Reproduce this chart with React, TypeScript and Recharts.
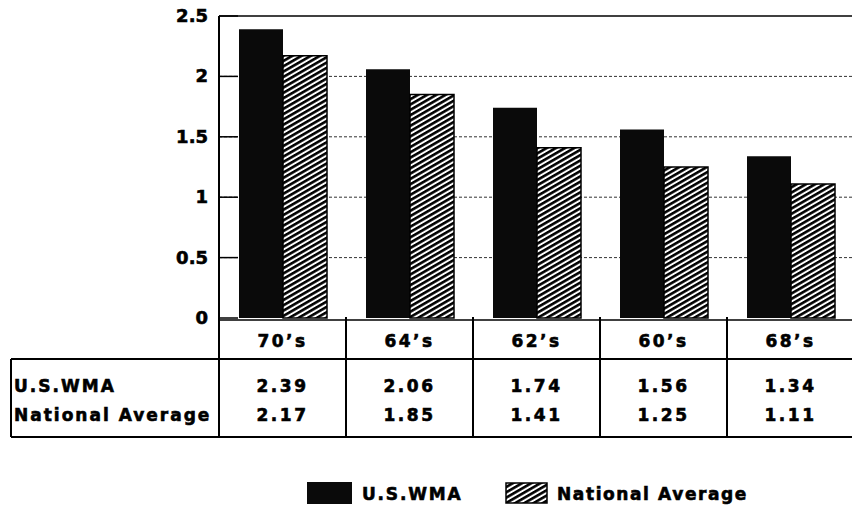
import React from "react";
import { BarChart, Bar, XAxis, YAxis, CartesianGrid, ReferenceLine, Legend } from "recharts";

const categories = ["70’s", "64’s", "62’s", "60’s", "68’s"];
const wmaValues = [2.39, 2.06, 1.74, 1.56, 1.34];
const natValues = [2.17, 1.85, 1.41, 1.25, 1.11];
const yTicks = [0, 0.5, 1, 1.5, 2, 2.5];
const gridValues = [0.5, 1, 1.5, 2];
const seriesNames = ["U.S.WMA", "National Average"];

const data = categories.map((c, i) => ({ cat: c, wma: wmaValues[i], nat: natValues[i] }));

const CHART_W = 860;
const CHART_H = 509;
const MARGIN = { top: 16, right: 6, left: 0, bottom: 0 };
const Y_AXIS_W = 219;
const FALLBACK_BAND = (CHART_W - MARGIN.right - MARGIN.left - Y_AXIS_W) / categories.length;
const FONT = "'DejaVu Sans', 'Liberation Sans', sans-serif";

const textStyle = {
  fontFamily: FONT,
  fontWeight: 700,
  fontSize: 17,
  fill: "#000",
  stroke: "#000",
  strokeWidth: 0.6,
};

const YTick = (props: any) => {
  const { x, y, payload } = props;
  return (
    <g>
      <line x1={x} x2={x + 19} y1={y} y2={y} stroke="#000" strokeWidth={1.5} />
      <text x={x - 11} y={y} dy={6} textAnchor="end" {...textStyle} fontSize={18}>
        {String(payload.value)}
      </text>
    </g>
  );
};

const XTick = (props: any) => {
  const { x, y, payload } = props;
  const index = props.index ?? payload.index ?? 0;
  const half = payload && payload.offset ? payload.offset : FALLBACK_BAND / 2;
  const left = x - half;
  const headerTop = y + 2;
  const tableTop = y + 41;
  const tableBottom = y + 119;
  return (
    <g>
      {index === 0 && (
        <g>
          <line x1={left} x2={900} y1={headerTop} y2={headerTop} stroke="#000" strokeWidth={1.5} />
          <line x1={11} x2={900} y1={tableTop} y2={tableTop} stroke="#000" strokeWidth={2} />
          <line x1={11} x2={900} y1={tableBottom} y2={tableBottom} stroke="#000" strokeWidth={2} />
          <line x1={11} x2={11} y1={tableTop} y2={tableBottom} stroke="#000" strokeWidth={2} />
          <text x={14} y={y + 74} textAnchor="start" {...textStyle} letterSpacing={2}>
            {seriesNames[0]}
          </text>
          <text x={14} y={y + 103} textAnchor="start" {...textStyle} letterSpacing={2}>
            {seriesNames[1]}
          </text>
        </g>
      )}
      <line x1={left} x2={left} y1={y - 1} y2={tableBottom} stroke="#000" strokeWidth={2} />
      <text x={x} y={y + 29} textAnchor="middle" {...textStyle} letterSpacing={2.5}>
        {payload.value}
      </text>
      <text x={x} y={y + 74} textAnchor="middle" {...textStyle} letterSpacing={2.5}>
        {wmaValues[index].toFixed(2)}
      </text>
      <text x={x} y={y + 103} textAnchor="middle" {...textStyle} letterSpacing={2.5}>
        {natValues[index].toFixed(2)}
      </text>
    </g>
  );
};

const LegendContent = (props: any) => {
  const payload = props.payload || [];
  const wmaItem = payload.find((p: any) => p.dataKey === "wma");
  const natItem = payload.find((p: any) => p.dataKey === "nat");
  return (
    <svg width={852} height={34} style={{ display: "block" }}>
      <defs>
        <pattern id="hatchL" patternUnits="userSpaceOnUse" width={8} height={4.6} patternTransform="rotate(-30)">
          <rect x={0} y={0} width={8} height={4.6} fill="#fff" />
          <rect x={0} y={0} width={8} height={2.6} fill="#000" />
        </pattern>
      </defs>
      <rect x={307} y={7} width={45} height={22} fill="#0a0a0a" />
      <text x={362} y={25} {...textStyle} letterSpacing={1.8}>
        {wmaItem ? wmaItem.value : seriesNames[0]}
      </text>
      <rect x={506} y={8} width={41} height={20} fill="url(#hatchL)" stroke="#000" strokeWidth={1.5} />
      <text x={557} y={25} {...textStyle} letterSpacing={1.6}>
        {natItem ? natItem.value : seriesNames[1]}
      </text>
    </svg>
  );
};

export default function App() {
  return (
    <div
      style={{
        position: "absolute",
        left: 0,
        top: 0,
        width: 852,
        height: 509,
        overflow: "hidden",
        background: "#fff",
      }}
    >
      <BarChart
        width={CHART_W}
        height={CHART_H}
        data={data}
        margin={MARGIN}
        barGap={0}
        barSize={44}
      >
        <defs>
          <pattern id="hatch" patternUnits="userSpaceOnUse" width={8} height={4.6} patternTransform="rotate(-30)">
            <rect x={0} y={0} width={8} height={4.6} fill="#fff" />
            <rect x={0} y={0} width={8} height={2.6} fill="#000" />
          </pattern>
        </defs>
        <CartesianGrid
          horizontal={true}
          vertical={false}
          horizontalValues={gridValues}
          stroke="#333"
          strokeDasharray="3 2"
        />
        <XAxis
          dataKey="cat"
          height={CHART_H - MARGIN.top - 302}
          axisLine={false}
          tickLine={false}
          tickSize={0}
          tickMargin={0}
          interval={0}
          tick={<XTick />}
        />
        <YAxis
          width={Y_AXIS_W}
          domain={[0, 2.5]}
          ticks={yTicks}
          interval={0}
          axisLine={{ stroke: "#000", strokeWidth: 2 }}
          tickLine={false}
          tickSize={0}
          tickMargin={0}
          tick={<YTick />}
        />
        <ReferenceLine y={2.5} stroke="#000" strokeWidth={1.5} />
        <Bar dataKey="wma" name={seriesNames[0]} fill="#0a0a0a" isAnimationActive={false} />
        <Bar
          dataKey="nat"
          name={seriesNames[1]}
          fill="url(#hatch)"
          stroke="#000"
          strokeWidth={1.5}
          isAnimationActive={false}
        />
        <Legend
          layout="horizontal"
          verticalAlign="middle"
          align="center"
          content={<LegendContent />}
          wrapperStyle={{ position: "absolute", left: 0, top: 475, width: 852, height: 34 }}
        />
      </BarChart>
    </div>
  );
}
